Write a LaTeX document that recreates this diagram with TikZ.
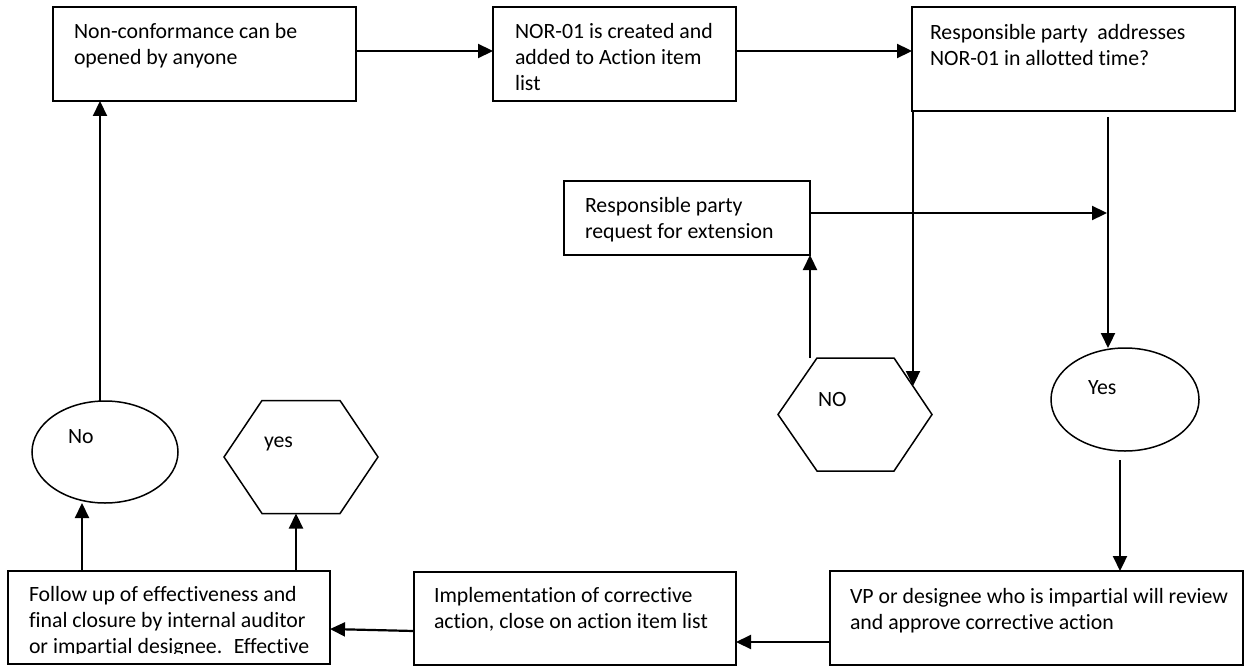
\documentclass[tikz,border=0pt]{standalone}
\usepackage{fontspec}
\setmainfont{Carlito}[Ligatures={NoCommon,NoContextual}]
\usetikzlibrary{arrows.meta,shapes.geometric}
\begin{document}
\begin{tikzpicture}[x=1pt,y=-1pt,
  box/.style={draw, line width=2pt, rectangle, inner sep=0pt, outer sep=0pt},
  shp/.style={line width=1.5pt},
  txt/.style={anchor=north west, inner sep=0pt, outer sep=0pt, align=left, font=\fontsize{21.8}{26}\selectfont},
  conn/.style={line width=2.2pt, -{Triangle[length=15pt,width=14pt]}},
  hexbox/.style={minimum width=154pt, minimum height=113pt, inner sep=0pt, outer sep=0pt}]
\useasboundingbox (0,0) rectangle (1246,666);

% rectangles
\node[box, minimum width=303pt, minimum height=94pt] (b1) at (204.5,54) {};
\node[box, minimum width=243pt, minimum height=94pt] (b2) at (614.5,54) {};
\node[box, minimum width=323pt, minimum height=104pt] (b3) at (1073.5,59) {};
\node[box, minimum width=246pt, minimum height=74pt] (ext) at (687,218) {};
\node[box, minimum width=322pt, minimum height=93pt] (impl) at (575,618.5) {};
\node[box, minimum width=413pt, minimum height=94pt] (vp) at (1036.5,618) {};
\node[box, minimum width=322pt, minimum height=93pt] (follow) at (169,617.5) {};

% texts
\node[txt] (t1) at (74,18.5) {\rule{0pt}{20pt}Non-conformance can be\\opened by anyone};
\node[txt] (t2) at (515,18.5) {\rule{0pt}{20pt}NOR-01 is created and\\added to Action item\\list};
\node[txt] (t3) at (930,19.5) {\rule{0pt}{20pt}Responsible party~ addresses\\NOR-01 in allotted time?};
\node[txt] (t4) at (585,192.5) {\rule{0pt}{20pt}Responsible party\\request for extension};
\node[txt] (t5) at (434,582.5) {\rule{0pt}{20pt}Implementation of corrective\\action, close on action item list};
\node[txt] (t6) at (850,583.5) {\rule{0pt}{20pt}VP or designee who is impartial will review\\and approve corrective action};
\begin{scope}
  \clip (8,571) rectangle (330,653);
  \node[txt] (t7) at (29,581.5) {\rule{0pt}{20pt}Follow up of effectiveness and\\final closure by internal auditor\\or impartial designee.~ Effective};
\end{scope}

% ellipses
\node[ellipse, draw, shp, minimum width=146pt, minimum height=102pt, inner sep=0pt, outer sep=0pt] (noell) at (105,452) {};
\node[ellipse, draw, shp, minimum width=148pt, minimum height=103pt, inner sep=0pt, outer sep=0pt] (yesell) at (1125,399.5) {};
\node[txt] (tno) at (68,423.5) {\rule{0pt}{20pt}No};
\node[txt] (tyesell) at (1088,374) {\rule{0pt}{20pt}Yes};

% hexagons
\node[hexbox] (yeshex) at (301,457) {};
\draw[shp] (yeshex.west) -- ([xshift=38pt]yeshex.north west) -- ([xshift=-38pt]yeshex.north east) -- (yeshex.east) -- ([xshift=-38pt]yeshex.south east) -- ([xshift=38pt]yeshex.south west) -- cycle;
\node[txt] (tyeshex) at (264,427) {\rule{0pt}{20pt}yes};

\node[hexbox] (nohex) at (855,414.5) {};
\draw[shp] (nohex.west) -- ([xshift=39pt]nohex.north west) -- ([xshift=-38pt]nohex.north east) -- (nohex.east) -- ([xshift=-38pt]nohex.south east) -- ([xshift=39pt]nohex.south west) -- cycle;
\node[txt] (tnohex) at (818,386) {\rule{0pt}{20pt}NO};

% free ends
\coordinate (noin) at (913,386);
\coordinate (yesin) at (1108,348);
\coordinate (extend) at (1107,213);
\coordinate (ysrc) at (1120,460);

% connectors
\draw[conn] (b1.east |- 0,51) -- (b2.west |- 0,51);
\draw[conn] (b2.east |- 0,51) -- (b3.west |- 0,51);
\draw[conn] (b3.south -| noin) -- (noin);
\draw[conn] (yesin |- 0,117) -- (yesin);
\draw[conn] (ext.east |- extend) -- (extend);
\draw[conn] (ext.south east |- nohex.north) -- (ext.south east);
\draw[conn] (ysrc) -- (ysrc |- vp.north);
\draw[conn] (vp.west |- 0,642) -- (impl.east |- 0,642);
\draw[conn] (impl.west |- 0,631) -- (follow.east |- 0,629);
\draw[conn] (follow.north -| 82,0) -- (noell.south -| 82,0);
\draw[conn] (follow.north -| 296,0) -- (yeshex.south -| 296,0);
\draw[conn] (noell.north -| 100,0) -- (b1.south -| 100,0);
\end{tikzpicture}
\end{document}
